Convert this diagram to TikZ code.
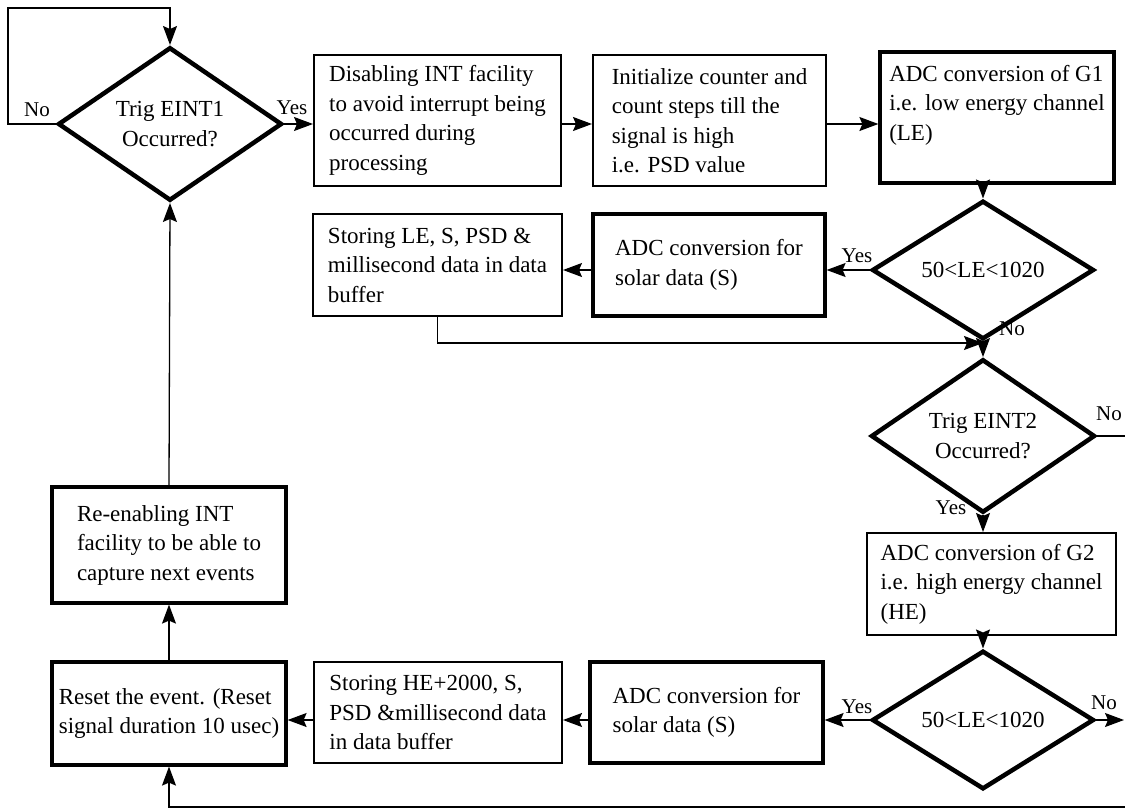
\documentclass[tikz,border=0pt]{standalone}
\usepackage{fontspec}
\setmainfont{Liberation Serif}
\usepackage{tikz}
\usetikzlibrary{arrows.meta,shapes.geometric}

\begin{document}
\begin{tikzpicture}[-{Stealth[length=19pt,width=14pt,inset=3pt]},line width=1.3pt,x=1pt,y=-1pt]
      \tikzstyle{every node}=[font=\fontsize{23}{29.5}\selectfont]
      \tikzstyle{proc}=[draw,rectangle,align=left,line width=2pt,inner sep=3pt]
      \tikzstyle{procb}=[proc,line width=3.2pt]
      \tikzstyle{decision}=[draw,diamond,align=center,inner sep=0pt,line width=4.5pt]
      \tikzstyle{lbl}=[font=\fontsize{21}{24}\selectfont,inner sep=0pt]

      \useasboundingbox (0,0) rectangle (1125,809);

      \node[decision,minimum width=224,minimum height=140] (d1) at (170,124) {Trig EINT1\\Occurred?};
      \node[proc,minimum width=247,minimum height=131] (b1) at (437.5,120.5) {Disabling INT facility\\to avoid interrupt being\\occurred during\\processing};
      \node[proc,minimum width=233,minimum height=131] (b2) at (709.5,120.5) {Initialize counter and\\count steps till the\\signal is high\\i.e. PSD value};
      \node[procb,minimum width=234,minimum height=131] (b3) at (997,117.5) {ADC conversion of G1\\i.e. low energy channel\\(LE)\\~};

      \node[decision,minimum width=222,minimum height=86] (d2) at (983,270) {50<LE<1020};
      \node[procb,minimum width=232,minimum height=102] (b5) at (709,265) {ADC conversion for\\solar data (S)};
      \node[proc,minimum width=249,minimum height=102] (b4) at (437.5,265) {Storing LE, S, PSD \&\\millisecond data in data\\buffer};

      \node[decision,minimum width=224,minimum height=142] (d3) at (983,436) {Trig EINT2\\Occurred?};
      \node[proc,minimum width=249,minimum height=102] (b6) at (991.5,584) {ADC conversion of G2\\i.e. high energy channel\\(HE)};

      \node[decision,minimum width=222,minimum height=86] (d4) at (983,720) {50<LE<1020};
      \node[procb,minimum width=233,minimum height=101] (b7) at (706.5,712.5) {ADC conversion for\\solar data (S)};
      \node[proc,minimum width=248,minimum height=101] (b8) at (438,712.5) {Storing HE+2000, S,\\PSD \&millisecond data\\in data buffer};
      \node[procb,minimum width=234,minimum height=103] (b9) at (169,713.5) {Reset the event. (Reset\\signal duration 10 usec)};
      \node[procb,minimum width=234,minimum height=116] (b10) at (169,545) {Re-enabling INT\\facility to be able to\\capture next events};

      \node[lbl] (no1) at (37,110) {No};
      \node[lbl] (yes1) at (292,108) {Yes};
      \node[lbl] (yes2) at (857,256) {Yes};
      \node[lbl] (no2) at (1012,329) {No};
      \node[lbl] (no3) at (1109,414) {No};
      \node[lbl] (yes3) at (951,508) {Yes};
      \node[lbl] (yes4) at (857,707) {Yes};
      \node[lbl] (no4) at (1104,703) {No};

      \coordinate (loop) at (8,8);
      \coordinate (join) at (983,343);
      \coordinate (e3) at (1125,436);
      \coordinate (e4) at (1124,720);
      \coordinate (fb) at (1125,807);

      \draw (d1.west) -| (loop) -| (d1.north);
      \draw (d1.east) -- (d1.east -| b1.west);
      \draw (b1.east |- d1.east) -- (b2.west |- d1.east);
      \draw (b2.east |- d1.east) -- (b3.west |- d1.east);
      \draw (b3.south -| d2.north) -- (d2.north);

      \draw (d2.west) -- (d2.west -| b5.east);
      \draw (b5.west |- d2.west) -- (b4.east |- d2.west);
      \draw (b4.south) |- (join);
      \draw (d2.south) -- (d3.north);

      \draw[-] (d3.east) -- (e3);
      \draw (d3.south) -- (d3.south |- b6.north);
      \draw (b6.south -| d4.north) -- (d4.north);

      \draw (d4.east) -- (e4);
      \draw (d4.west) -- (d4.west -| b7.east);
      \draw (b7.west |- d4.west) -- (b8.east |- d4.west);
      \draw (b8.west |- d4.west) -- (b9.east |- d4.west);
      \draw (fb) -| (b9.south);
      \draw (b9.north) -- (b10.south);
      \draw (b10.north) -- (d1.south);

    \end{tikzpicture}
\end{document}
